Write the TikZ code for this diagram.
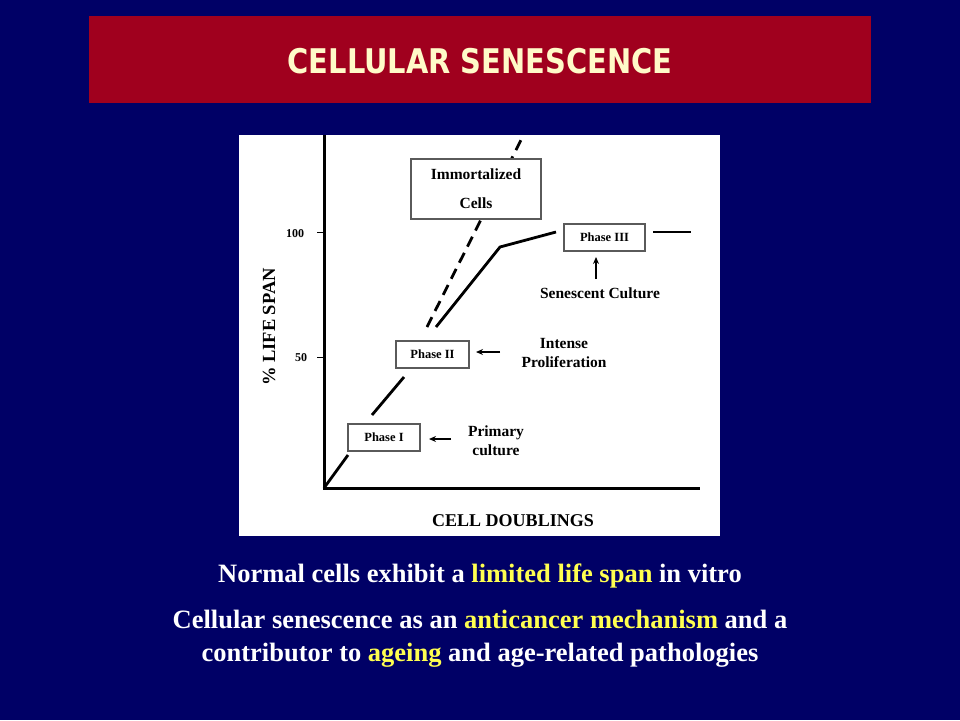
\documentclass[tikz,border=0pt]{standalone}
\usepackage{fontspec}
\setmainfont{Liberation Serif}
\newfontfamily\titlefont{DejaVu Sans}
\usetikzlibrary{arrows.meta}
\definecolor{navy}{RGB}{0,0,102}
\definecolor{barred}{RGB}{160,0,30}
\definecolor{cream}{RGB}{255,250,200}
\definecolor{hiyel}{RGB}{255,255,80}
\definecolor{boxgray}{RGB}{90,90,90}
\tikzset{
  phasebox/.style={draw=boxgray, line width=1.2pt, fill=white, inner sep=0pt, font=\bfseries\fontsize{12.5}{14}\selectfont},
  lbl/.style={font=\bfseries\fontsize{15.5}{19}\selectfont, align=center, inner sep=0pt},
  curve/.style={line width=2.8pt},
  ptr/.style={line width=1.3pt, -{Stealth[length=7pt,width=6pt]}},
  bottomtxt/.style={text=white, font=\bfseries\fontsize{26.5}{33}\selectfont, align=center, inner sep=0pt},
}
\begin{document}
\begin{tikzpicture}[x=1pt,y=-1pt]
\useasboundingbox (0,0) rectangle (960,720);
\fill[navy] (0,0) rectangle (960,720);
% title bar
\fill[barred] (89,16) rectangle (871,103);
\node[text=cream, font=\titlefont\bfseries\fontsize{34}{40}\selectfont, xscale=0.85, inner sep=0pt] (title) at (480,61) {CELLULAR SENESCENCE};
% chart panel
\fill[white] (239,135) rectangle (720,536);
% axes
\coordinate (ytop) at (324,135);
\coordinate (o) at (324,488);
\coordinate (xend) at (700,488);
\draw[line width=3pt] (ytop) -- (o) -- (xend);
% ticks
\coordinate (t100a) at (317,232); \coordinate (t100b) at (324,232);
\coordinate (t50a) at (317,357); \coordinate (t50b) at (324,357);
\draw[line width=0.8pt] (t100a) -- (t100b);
\draw[line width=0.8pt] (t50a) -- (t50b);
\node[font=\bfseries\fontsize{12}{14}\selectfont, inner sep=0pt] (l100) at (295,234) {100};
\node[font=\bfseries\fontsize{12}{14}\selectfont, inner sep=0pt] (l50) at (301,358) {50};
% axis labels
\node[font=\bfseries\fontsize{18.5}{20}\selectfont, rotate=90, inner sep=0pt] (ylab) at (269,327) {\% LIFE SPAN};
\node[font=\bfseries\fontsize{18}{20}\selectfont, inner sep=0pt] (xlab) at (513,521) {CELL DOUBLINGS};
% curve points
\coordinate (c1) at (348,455);
\coordinate (c2) at (372,415);
\coordinate (c3) at (404,377);
\coordinate (c4) at (436,327);
\coordinate (c5) at (500,247);
\coordinate (c6) at (556,232);
\coordinate (c7) at (653,232);
\coordinate (c8) at (691,232);
\coordinate (d1) at (427,327);
\coordinate (d2) at (522,138);
% dashed immortalized line
\draw[curve, dash pattern=on 11pt off 7pt] (d1) -- (d2);
% solid line
\draw[curve] (o) -- (c1);
\draw[curve] (c2) -- (c3);
\draw[curve] (c4) -- (c5) -- (c6);
\draw[curve] (c7) -- (c8);
% boxes
\node[phasebox, minimum width=130pt, minimum height=60pt, font=\bfseries\fontsize{15.5}{29}\selectfont, align=center] (imm) at (476,189) {Immortalized\\Cells};
\node[phasebox, minimum width=81pt, minimum height=27pt] (p3) at (604.5,237.5) {Phase III};
\node[phasebox, minimum width=73pt, minimum height=27pt] (p2) at (432.5,354.5) {Phase II};
\node[phasebox, minimum width=72pt, minimum height=27pt] (p1) at (384,437.5) {Phase I};
% labels
\node[lbl] (sen) at (600,293) {Senescent Culture};
\node[lbl] (prol) at (564,352.5) {Intense\\Proliferation};
\node[lbl] (prim) at (496,440.5) {Primary\\culture};
% pointer arrows
\coordinate (a3s) at (596,279); \coordinate (a3e) at (596,257);
\coordinate (a2s) at (500,352); \coordinate (a2e) at (476,352);
\coordinate (a1s) at (451,439); \coordinate (a1e) at (429,439);
\draw[ptr] (a3s) -- (a3e);
\draw[ptr] (a2s) -- (a2e);
\draw[ptr] (a1s) -- (a1e);
% bottom text
\node[bottomtxt] (b1) at (480,576) {Normal cells exhibit a \textcolor{hiyel}{limited life span} in vitro};
\node[bottomtxt] (b2) at (480,638.5) {Cellular senescence as an \textcolor{hiyel}{anticancer mechanism} and a\\contributor to \textcolor{hiyel}{ageing} and age-related pathologies};
\end{tikzpicture}
\end{document}
